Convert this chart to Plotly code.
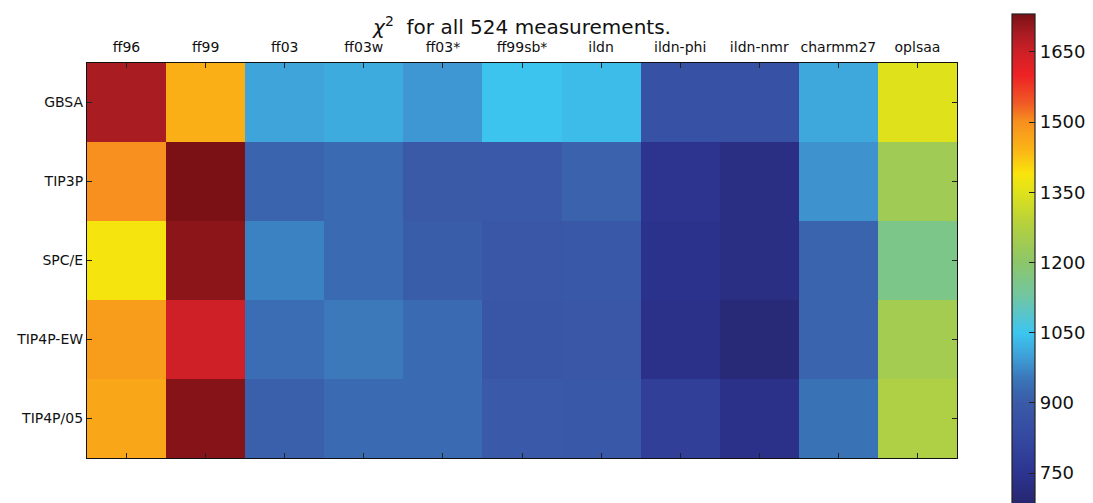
import plotly.graph_objects as go

forcefields = ["ff96", "ff99", "ff03", "ff03w", "ff03*", "ff99sb*", "ildn",
               "ildn-phi", "ildn-nmr", "charmm27", "oplsaa"]
water_models = ["GBSA", "TIP3P", "SPC/E", "TIP4P-EW", "TIP4P/05"]

chi2_gbsa = [1690, 1450, 1005, 1015, 990, 1048, 1035, 860, 860, 1010, 1350]
chi2_tip3p = [1500, 1730, 920, 930, 900, 895, 915, 750, 725, 985, 1240]
chi2_spce = [1385, 1715, 965, 930, 905, 885, 890, 740, 725, 920, 1160]
chi2_tip4pew = [1480, 1645, 935, 955, 930, 880, 885, 735, 700, 920, 1245]
chi2_tip4p05 = [1465, 1720, 910, 930, 930, 895, 890, 790, 735, 945, 1270]

cbar_ticks = [750, 900, 1050, 1200, 1350, 1500, 1650]
zmin, zmax = 682, 1731

z = [chi2_gbsa, chi2_tip3p, chi2_spce, chi2_tip4pew, chi2_tip4p05]

stops = [(686, "#27266e"), (750, "#2c3490"), (820, "#3447a0"), (900, "#3a5aa8"),
         (950, "#3a75b8"), (1000, "#3fa0d8"), (1050, "#3cc6f0"), (1080, "#52c4d4"),
         (1130, "#72c6a0"), (1200, "#8cc66a"), (1280, "#b4d03e"), (1350, "#dfe21b"),
         (1390, "#f9e40c"), (1440, "#fbb516"), (1500, "#f7901e"), (1540, "#f05a25"),
         (1600, "#ee2224"), (1650, "#cd2027"), (1690, "#a81c22"), (1731, "#7a1015")]
colorscale = [[max(0.0, min(1.0, (v - zmin) / (zmax - zmin))), c] for v, c in stops]
colorscale[0][0] = 0.0
colorscale[-1][0] = 1.0

W, H = 1085, 495
ML, MR, MT, MB = 79, 136, 55, 45
plot_h = H - MT - MB

fig = go.Figure(go.Heatmap(
    z=z, x=forcefields, y=water_models,
    zmin=zmin, zmax=zmax, colorscale=colorscale,
    colorbar=dict(
        tickvals=cbar_ticks, ticks="inside", ticklen=6, tickcolor="#222",
        tickfont=dict(size=18, color="#111"),
        outlinewidth=1.2, outlinecolor="#222",
        thickness=23, thicknessmode="pixels",
        lenmode="fraction", len=491 / plot_h, ypad=0, xpad=0,
        yref="paper", y=(H - MB - 6) / plot_h, yanchor="top",
        xref="container", x=1004 / W, xanchor="left",
    ),
))

fig.update_layout(
    width=W, height=H,
    margin=dict(l=ML, r=MR, t=MT, b=MB, autoexpand=False),
    plot_bgcolor="white", paper_bgcolor="white",
    font=dict(family="DejaVu Sans", color="#111"),
    title=dict(text="<i>χ</i><sup>2</sup>  for all 524 measurements.",
               x=514 / W, xanchor="center", y=1 - 19 / H, yanchor="middle",
               font=dict(size=20, color="#111")),
)
fig.update_xaxes(side="top", ticks="inside", ticklen=5, tickcolor="#222",
                 showline=True, linecolor="#111", linewidth=1.2, mirror="ticks",
                 tickfont=dict(size=14), showgrid=False, ticklabelstandoff=4)
fig.update_yaxes(autorange="reversed", ticks="inside", ticklen=5, tickcolor="#222",
                 showline=True, linecolor="#111", linewidth=1.2, mirror="ticks",
                 tickfont=dict(size=14), showgrid=False)

fig.write_html("out.html")
